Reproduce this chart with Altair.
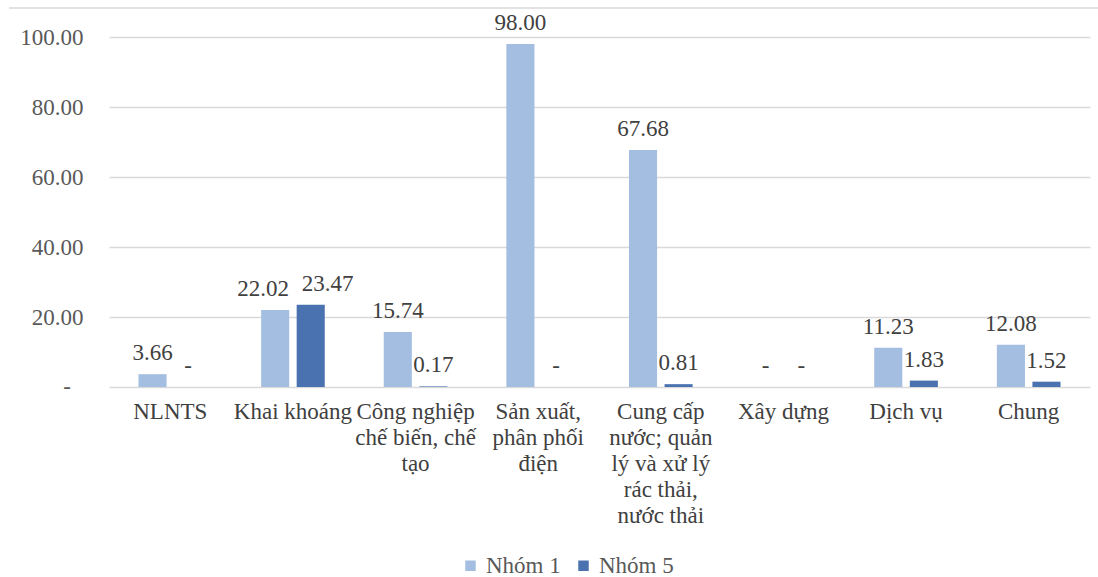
import altair as alt
import pandas as pd

categories = [
    "NLNTS",
    "Khai khoáng",
    "Công nghiệp chế biến, chế tạo",
    "Sản xuất, phân phối điện",
    "Cung cấp nước; quản lý và xử lý rác thải, nước thải",
    "Xây dựng",
    "Dịch vụ",
    "Chung",
]
# wrapped axis labels, one list of lines per category
wrapped = [
    ["NLNTS"],
    ["Khai khoáng"],
    ["Công nghiệp", "chế biến, chế", "tạo"],
    ["Sản xuất,", "phân phối", "điện"],
    ["Cung cấp", "nước; quản", "lý và xử lý", "rác thải,", "nước thải"],
    ["Xây dựng"],
    ["Dịch vụ"],
    ["Chung"],
]
series = ["Nhóm 1", "Nhóm 5"]
nhom1 = [3.66, 22.02, 15.74, 98.00, 67.68, 0.0, 11.23, 12.08]
nhom5 = [0.0, 23.47, 0.17, 0.0, 0.81, 0.0, 1.83, 1.52]
y_ticks = [0, 20, 40, 60, 80, 100]
colors = ["#A4BEE2", "#4A72B0"]

rows = []
for c, a, b in zip(categories, nhom1, nhom5):
    rows.append({"cat": c, "grp": series[0], "val": a})
    rows.append({"cat": c, "grp": series[1], "val": b})
df = pd.DataFrame(rows)
df["lbl"] = df["val"].apply(lambda v: "-" if v == 0 else f"{v:.2f}")

FONT = "Liberation Serif, Times New Roman, serif"
FS = 23

# build the multi-line label expression
expr = "datum.value"
for c, lines in reversed(list(zip(categories, wrapped))):
    arr = "[" + ",".join("'" + s + "'" for s in lines) + "]"
    expr = f"datum.value == '{c}' ? {arr} : ({expr})"

x_enc = alt.X(
    "cat:N",
    sort=categories,
    scale=alt.Scale(paddingInner=0.42, paddingOuter=0.21),
    axis=alt.Axis(
        title=None,
        labelAngle=0,
        labelExpr=expr,
        labelFont=FONT,
        labelFontSize=FS,
        labelColor="#404040",
        labelLineHeight=26,
        labelPadding=13,
        labelLimit=200,
        ticks=False,
        domain=False,
    ),
)
xoff = alt.XOffset(
    "grp:N", sort=series, scale=alt.Scale(paddingInner=0.21, paddingOuter=0.105)
)
# the zero tick gets its own "-" mark (accounting style), placed further left
y_enc = alt.Y(
    "val:Q",
    scale=alt.Scale(domain=[0, 100], nice=False),
    axis=alt.Axis(
        title=None,
        values=y_ticks,
        labelExpr="datum.value == 0 ? '' : format(datum.value, '.2f')",
        labelFont=FONT,
        labelFontSize=FS,
        labelColor="#595959",
        labelPadding=26,
        ticks=False,
        domain=False,
        gridColor="#D9D9D9",
        gridWidth=1.5,
    ),
)

bars = alt.Chart(df).mark_bar().encode(
    x=x_enc,
    xOffset=xoff,
    y=y_enc,
    color=alt.Color(
        "grp:N",
        sort=series,
        scale=alt.Scale(domain=series, range=colors),
        legend=alt.Legend(
            title=None,
            orient="none",
            direction="horizontal",
            legendX=350,
            legendY=517,
            symbolType="square",
            symbolSize=110,
            symbolStrokeWidth=0,
            labelFont=FONT,
            labelFontSize=FS,
            labelColor="#595959",
            columnPadding=11,
        ),
    ),
)

zero_tick = alt.Chart(pd.DataFrame({"v": [y_ticks[0]]})).mark_text(
    font=FONT, fontSize=FS, color="#595959", align="center", baseline="middle"
).encode(x=alt.value(-42), y=alt.Y("v:Q"), text=alt.value("-"))


def value_text(data_filter, dx=0):
    return (
        alt.Chart(df)
        .transform_filter(data_filter)
        .mark_text(
            font=FONT, fontSize=FS, color="#404040", baseline="bottom", dy=-9, dx=dx
        )
        .encode(
            x=alt.X("cat:N", sort=categories),
            xOffset=alt.XOffset("grp:N", sort=series),
            y=alt.Y("val:Q"),
            text="lbl:N",
        )
    )


# the two close labels over "Khai khoáng" are nudged apart
labels_main = value_text("datum.cat != 'Khai khoáng'")
labels_left = value_text("datum.cat == 'Khai khoáng' && datum.grp == 'Nhóm 1'", dx=-12)
labels_right = value_text("datum.cat == 'Khai khoáng' && datum.grp == 'Nhóm 5'", dx=17)

frame = alt.Chart(pd.DataFrame({"k": [0]})).mark_rule(
    color="#D9D9D9", strokeWidth=1.5
).encode(x=alt.value(-100), x2=alt.value(989), y=alt.value(-29))

chart = (
    alt.layer(bars, labels_main, labels_left, labels_right, zero_tick, frame)
    .properties(
        width=981,
        height=350,
        autosize=alt.AutoSizeParams(type="none"),
        padding={"left": 109, "top": 37, "right": 8, "bottom": 190},
        background="white",
    )
    .configure_view(stroke=None)
)

chart.save("out.html", embed_options={"renderer": "svg", "actions": False})
